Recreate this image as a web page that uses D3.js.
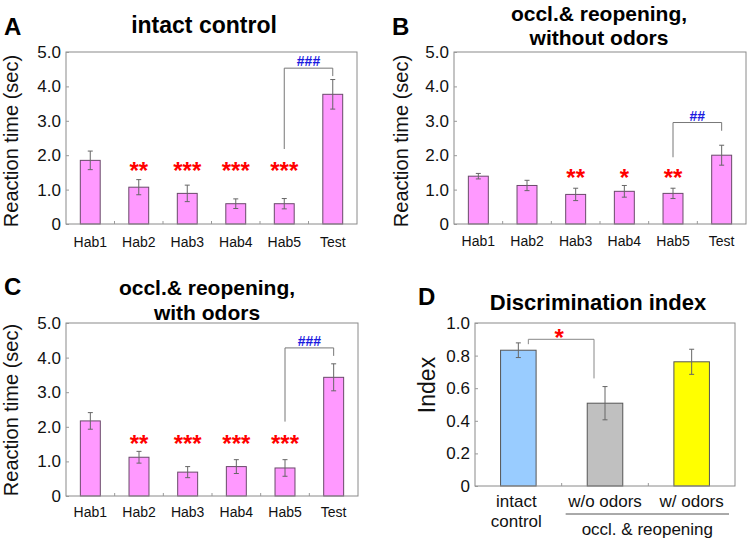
<!DOCTYPE html>
<html><head><meta charset="utf-8">
<script src="https://cdn.jsdelivr.net/npm/d3@7"></script>
<style>
html,body{margin:0;padding:0;background:#fff;}
svg{display:block;font-family:"Liberation Sans",Arial,sans-serif;}
</style></head>
<body><svg id="c" width="751" height="542"></svg>
<script>
// ---------------- data ----------------
const habLabels = ["Hab1","Hab2","Hab3","Hab4","Hab5","Test"];
const rtTicks = [0,1,2,3,4,5];

const intactMeans = [1.85,1.07,0.89,0.59,0.59,3.77];
const intactErr   = [0.27,0.22,0.24,0.14,0.15,0.43];
const intactStars = ["","**","***","***","***",""];
const intactHash  = {from:"Hab5", to:"Test", top:4.53, leftEnd:2.18, rightEnd:4.30, text:"###"};

const noOdorMeans = [1.39,1.12,0.86,0.95,0.89,2.00];
const noOdorErr   = [0.08,0.15,0.18,0.17,0.15,0.29];
const noOdorStars = ["","","**","*","**",""];
const noOdorHash  = {from:"Hab5", to:"Test", top:2.95, leftEnd:1.94, rightEnd:2.71, text:"##"};

const withOdorMeans = [2.17,1.12,0.69,0.85,0.81,3.43];
const withOdorErr   = [0.24,0.17,0.16,0.20,0.24,0.39];
const withOdorStars = ["","**","***","***","***",""];
const withOdorHash  = {from:"Hab5", to:"Test", top:4.28, leftEnd:2.15, rightEnd:4.05, text:"###"};

const diKeys   = ["intact","woOdors","wOdors"];
const diLabels = [["intact","control"],["w/o odors"],["w/ odors"]];
const diGroupLabel = "occl. & reopening";
const diMeans  = [0.833,0.508,0.762];
const diErr    = [0.045,0.102,0.077];
const diTicks  = [0,0.2,0.4,0.6,0.8,1.0];
const diSig    = {top:0.90, leftEnd:0.87, rightEnd:0.66, text:"*"};

// ---------------- drawing ----------------
const svg = d3.select("#c");
const FRAME = "#8a8a8a", TXT = "#111";
const fmt = v => v === 0 ? "0" : d3.format(".1f")(v);

function frameAndYAxis(g, box, y, ticks){
  g.append("g").attr("transform",`translate(${box.l},0)`)
    .call(d3.axisLeft(y).tickValues(ticks).tickSize(-3).tickPadding(5).tickFormat(fmt))
    .call(a=>a.select(".domain").remove())
    .call(a=>a.selectAll("line").attr("stroke","#999"))
    .call(a=>a.selectAll("text").attr("font-size",17).attr("fill",TXT).attr("font-family","Liberation Sans, Arial"));
}
function boundaryTicks(g, x, box){
  const doms = x.domain();
  doms.slice(0,-1).forEach(d=>{
    const bx = x(d) + x.bandwidth()/2 + x.step()/2;
    g.append("line").attr("x1",bx).attr("x2",bx).attr("y1",box.b).attr("y2",box.b-3)
      .attr("stroke","#999").attr("stroke-width",1);
  });
}
function errBars(g, x, y, keys, means, errs){
  keys.forEach((k,i)=>{
    const cx = x(k)+x.bandwidth()/2;
    const y1 = y(means[i]+errs[i]), y2 = y(means[i]-errs[i]);
    g.append("line").attr("x1",cx).attr("x2",cx).attr("y1",y1).attr("y2",y2).attr("stroke","#666").attr("stroke-width",1);
    [y1,y2].forEach(yy=>g.append("line").attr("x1",cx-2.5).attr("x2",cx+2.5).attr("y1",yy).attr("y2",yy).attr("stroke","#666").attr("stroke-width",1));
  });
}

function rtPanel(cfg){
  const box = cfg.box;
  const g = svg.append("g");
  const x = d3.scaleBand().domain(habLabels).range([box.l,box.r]).paddingInner(0.59).paddingOuter(0.295);
  const y = d3.scaleLinear().domain([0,5]).range([box.b,box.t]);
  g.selectAll("rect.bar").data(habLabels).join("rect")
    .attr("x",d=>x(d)).attr("width",x.bandwidth())
    .attr("y",(d,i)=>y(cfg.means[i])).attr("height",(d,i)=>y(0)-y(cfg.means[i]))
    .attr("fill","#ff99ff").attr("stroke","#6a4a6a").attr("stroke-width",1);
  errBars(g,x,y,habLabels,cfg.means,cfg.err);
  g.append("rect").attr("x",box.l).attr("y",box.t).attr("width",box.r-box.l).attr("height",box.b-box.t)
    .attr("fill","none").attr("stroke",FRAME).attr("stroke-width",1);
  frameAndYAxis(g,box,y,rtTicks);
  boundaryTicks(g,x,box);
  g.append("g").attr("transform",`translate(0,${box.b})`)
    .call(d3.axisBottom(x).tickSize(0).tickPadding(0))
    .call(a=>a.select(".domain").remove())
    .call(a=>a.selectAll("text").attr("dy",null).attr("y",cfg.labOff).attr("font-size",14).attr("fill",TXT).attr("font-family","Liberation Sans, Arial"));
  habLabels.forEach((d,i)=>{
    if(!cfg.stars[i]) return;
    g.append("text").attr("x",x(d)+x.bandwidth()/2).attr("y",y(cfg.starLevel)+14)
      .attr("text-anchor","middle").attr("font-size",24).attr("font-weight","bold").attr("fill","#ff0000").text(cfg.stars[i]);
  });
  const h = cfg.hash;
  const xl = x(h.from)+x.bandwidth()/2, xr = x(h.to)+x.bandwidth()/2;
  g.append("path").attr("d",`M${xl},${y(h.leftEnd)}V${y(h.top)}H${xr}V${y(h.rightEnd)}`)
    .attr("fill","none").attr("stroke","#777").attr("stroke-width",1);
  g.append("text").attr("x",(xl+xr)/2).attr("y",y(h.top)-2).attr("text-anchor","middle")
    .attr("font-size",14).attr("font-weight","bold").attr("fill","#1a1ae0").text(h.text);
  g.append("text").attr("transform",`translate(${cfg.ylab[0]},${cfg.ylab[1]}) rotate(-90)`)
    .attr("text-anchor","middle").attr("font-size",20).attr("fill",TXT).text("Reaction time (sec)");
  cfg.title.forEach((t,i)=>{
    g.append("text").attr("x",cfg.titleX).attr("y",cfg.titleY[i]).attr("text-anchor","middle")
      .attr("font-size",cfg.titleSize).attr("font-weight","bold").attr("fill","#000").text(t);
  });
  g.append("text").attr("x",cfg.letter[0]).attr("y",cfg.letter[1]).attr("font-size",24)
    .attr("font-weight","bold").attr("fill","#000").text(cfg.letter[2]);
}

rtPanel({box:{l:66,r:357,t:52,b:224}, means:intactMeans, err:intactErr, stars:intactStars, starLevel:1.72,
  hash:intactHash, labOff:23, ylab:[18,141], title:["intact control"], titleX:204, titleY:[33], titleSize:23,
  letter:[4,35,"A"]});
rtPanel({box:{l:454,r:746,t:52,b:224}, means:noOdorMeans, err:noOdorErr, stars:noOdorStars, starLevel:1.52,
  hash:noOdorHash, labOff:22, ylab:[408,141], title:["occl.& reopening,","without odors"], titleX:599, titleY:[21,45], titleSize:21,
  letter:[392,35,"B"]});
rtPanel({box:{l:66,r:358,t:323,b:496}, means:withOdorMeans, err:withOdorErr, stars:withOdorStars, starLevel:1.67,
  hash:withOdorHash, labOff:21, ylab:[18,410], title:["occl.& reopening,","with odors"], titleX:207, titleY:[295,320], titleSize:21,
  letter:[4,295,"C"]});

// ---- panel D ----
(function(){
  const box = {l:475,r:735,t:323,b:486};
  const g = svg.append("g");
  const x = d3.scaleBand().domain(diKeys).range([box.l,box.r]).paddingInner(0.59).paddingOuter(0.295);
  const y = d3.scaleLinear().domain([0,1]).range([box.b,box.t]);
  const fills = ["#99ccff","#c0c0c0","#ffff00"];
  g.selectAll("rect.bar").data(diKeys).join("rect")
    .attr("x",d=>x(d)).attr("width",x.bandwidth())
    .attr("y",(d,i)=>y(diMeans[i])).attr("height",(d,i)=>y(0)-y(diMeans[i]))
    .attr("fill",(d,i)=>fills[i]).attr("stroke","#555").attr("stroke-width",1);
  errBars(g,x,y,diKeys,diMeans,diErr);
  g.append("rect").attr("x",box.l).attr("y",box.t).attr("width",box.r-box.l).attr("height",box.b-box.t)
    .attr("fill","none").attr("stroke",FRAME).attr("stroke-width",1);
  frameAndYAxis(g,box,y,diTicks);
  boundaryTicks(g,x,box);
  diKeys.forEach((k,i)=>{
    const cx = x(k)+x.bandwidth()/2 - (i===0?2:0);
    diLabels[i].forEach((t,j)=>{
      g.append("text").attr("x",cx).attr("y",box.b+21+j*20).attr("text-anchor","middle")
        .attr("font-size",17).attr("fill",TXT).text(t);
    });
  });
  const gl = x(diKeys[1]) - x.step()*0.295 + 4, gr = box.r - 6;
  g.append("line").attr("x1",gl).attr("x2",gr).attr("y1",box.b+28).attr("y2",box.b+28).attr("stroke","#555").attr("stroke-width",1);
  g.append("text").attr("x",(gl+gr)/2).attr("y",box.b+49).attr("text-anchor","middle")
    .attr("font-size",17).attr("fill",TXT).text(diGroupLabel);
  const xl = x(diKeys[0])+x.bandwidth()/2 + 10, xr = x(diKeys[1])+x.bandwidth()/2 - 11;
  g.append("path").attr("d",`M${xl},${y(diSig.leftEnd)}V${y(diSig.top)}H${xr}V${y(diSig.rightEnd)}`)
    .attr("fill","none").attr("stroke","#888").attr("stroke-width",1);
  g.append("text").attr("x",(xl+xr)/2 - 2).attr("y",y(diSig.top)+7).attr("text-anchor","middle")
    .attr("font-size",24).attr("font-weight","bold").attr("fill","#ff0000").text(diSig.text);
  g.append("text").attr("transform",`translate(435,385) rotate(-90)`).attr("text-anchor","middle")
    .attr("font-size",23).attr("fill",TXT).text("Index");
  g.append("text").attr("x",598).attr("y",310).attr("text-anchor","middle").attr("font-size",22)
    .attr("font-weight","bold").attr("fill","#000").text("Discrimination index");
  g.append("text").attr("x",418).attr("y",305).attr("font-size",24).attr("font-weight","bold").attr("fill","#000").text("D");
})();
</script></body></html>
